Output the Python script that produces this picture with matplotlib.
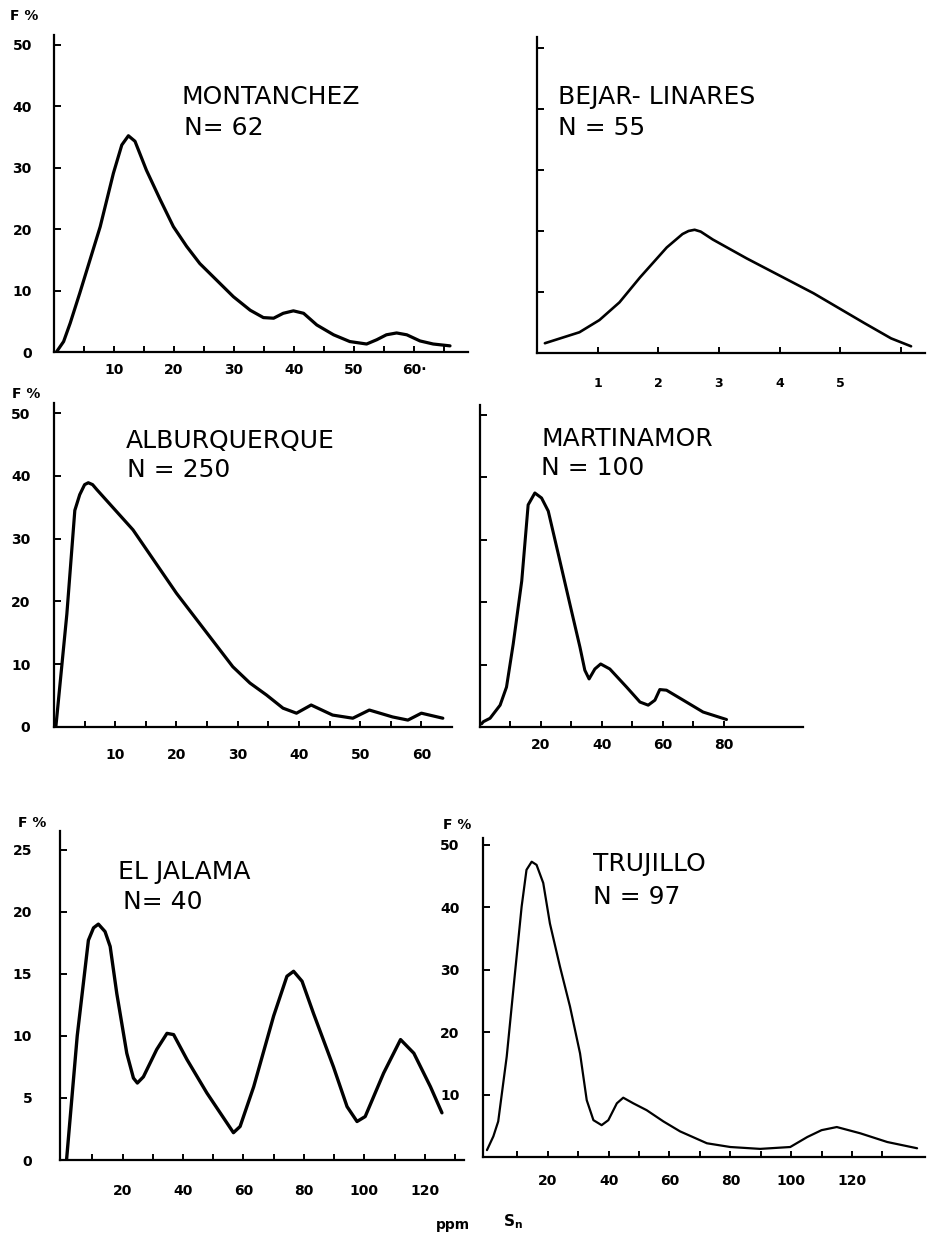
import matplotlib
matplotlib.use("Agg")
import matplotlib.pyplot as plt

# Sn frequency curves (F %) against ppm
mont_x = [0.4, 1.6, 2.7, 4.3, 7.7, 9.9, 11.3, 12.4, 13.5, 15.4, 17.7, 19.9, 22.1, 24.3,
          27.1, 29.9, 32.7, 34.9, 36.6, 38.2, 39.9, 41.6, 43.8, 46.6, 49.3, 52.1, 53.8,
          55.4, 57.1, 58.8, 61, 63.2, 66]
mont_y = [0, 1.7, 4.7, 9.6, 20.4, 29.1, 33.7, 35.2, 34.3, 29.6, 24.8, 20.4, 17.2, 14.4,
          11.7, 9, 6.8, 5.6, 5.5, 6.3, 6.7, 6.3, 4.4, 2.8, 1.7, 1.3, 2,
          2.8, 3.1, 2.8, 1.8, 1.3, 1]

bejar_x = [0.13, 0.7, 1.03, 1.36, 1.7, 2.14, 2.4, 2.5, 2.6, 2.7, 2.9, 3.46, 4.56, 5.4, 5.84, 6.17]
bejar_y = [1.6, 3.4, 5.4, 8.3, 12.4, 17.3, 19.5, 20, 20.2, 19.9, 18.6, 15.5, 9.8, 4.9, 2.4, 1.1]

albu_x = [0.3, 2.1, 3.4, 4.2, 5, 5.6, 6.3, 7, 12.9, 20, 29.2, 32, 34.7, 37.4, 39.6, 42,
          45.5, 48.8, 51.5, 55.3, 57.8, 60, 63.5]
albu_y = [0, 18, 34.5, 37, 38.6, 38.9, 38.6, 37.8, 31.4, 21.3, 9.6, 7, 5.1, 3, 2.2, 3.5,
          1.9, 1.4, 2.7, 1.6, 1.1, 2.2, 1.4]

mart_x = [0.5, 1.1, 3.3, 6.6, 8.7, 10.9, 13.7, 15.8, 18, 20.2, 22.4, 25.7, 29.5, 32.8,
          34.4, 35.8, 37.7, 39.6, 42.6, 48.1, 52.5, 55.2, 57.4, 59, 61.2, 66.7, 73.2, 80.9]
mart_y = [0.5, 0.85, 1.4, 3.5, 6.4, 13.3, 23.4, 35.6, 37.5, 36.7, 34.6, 27.7, 19.7, 12.8,
          9.1, 7.7, 9.3, 10.1, 9.3, 6.4, 4, 3.5, 4.3, 6, 5.9, 4.3, 2.4, 1.2]

jal_x = [1.5, 5, 8.7, 10.4, 12, 14.2, 15.9, 18.1, 21.4, 23.6, 24.9, 26.9, 31.3, 34.7,
         36.9, 41.3, 47.9, 54.5, 56.7, 58.9, 63.4, 70, 74.4, 76.6, 79.4, 83.2, 89.8,
         94.3, 97.6, 100.3, 106.4, 112, 116.4, 121.9, 125.7]
jal_y = [0.1, 10, 17.7, 18.7, 19, 18.4, 17.2, 13.4, 8.6, 6.6, 6.2, 6.7, 8.9, 10.2,
         10.1, 8.1, 5.4, 3, 2.2, 2.7, 5.9, 11.6, 14.8, 15.2, 14.4, 11.8, 7.5,
         4.3, 3.1, 3.5, 7, 9.7, 8.6, 5.9, 3.8]

tru_x = [0, 2.1, 3.7, 6.5, 9.2, 11.4, 13, 14.7, 16.3, 18.5, 20.7, 24, 27.3, 30.6, 32.8,
         35, 37.7, 39.9, 42.7, 44.8, 48.1, 52.5, 58, 63.5, 72.3, 80, 89.8, 99.7, 105.3,
         110, 115, 122.7, 131.6, 141.4]
tru_y = [1.1, 3.3, 5.7, 16.1, 29.4, 40.1, 46, 47.3, 46.8, 43.9, 37.4, 30.5, 24.1, 16.6, 9.1,
         5.9, 5.1, 5.9, 8.6, 9.5, 8.6, 7.5, 5.7, 4.1, 2.2, 1.6, 1.3, 1.6, 3.2,
         4.3, 4.8, 3.8, 2.4, 1.4]

W, H = 927, 1234
fig = plt.figure(figsize=(W / 100, H / 100), dpi=100)
fig.patch.set_facecolor("white")


def pax(left, top, right, bottom):
    return fig.add_axes([left / W, 1 - bottom / H, (right - left) / W, (bottom - top) / H])


def panel(rect, x, y, lw, xlim, ylim, xt, xl, yt, yl, xminor=None, xpad=8, ypad=13):
    ax = pax(*rect)
    ax.plot(x, y, color="black", lw=lw, solid_capstyle="round", solid_joinstyle="round")
    ax.set_xlim(*xlim)
    ax.set_ylim(*ylim)
    for s in ["top", "right"]:
        ax.spines[s].set_visible(False)
    for s in ["left", "bottom"]:
        ax.spines[s].set_linewidth(1.6)
    ax.set_xticks(xt)
    ax.set_xticklabels(xl)
    ax.set_yticks(yt)
    ax.set_yticklabels(yl)
    if xminor is not None:
        ax.set_xticks(xminor, minor=True)
    ax.tick_params(axis="x", which="both", direction="in", length=4, width=1.4, pad=xpad)
    ax.tick_params(axis="y", which="both", direction="in", length=5, width=1.4, pad=ypad)
    for t in ax.get_xticklabels() + ax.get_yticklabels():
        t.set_fontsize(10)
        t.set_fontweight("bold")
    ax.patch.set_alpha(0)
    return ax


dec = [0, 10, 20, 30, 40, 50]
dec_l = ["0", "10", "20", "30", "40", "50"]

# MONTANCHEZ
panel((54, 35, 468, 352), mont_x, mont_y, 2.3, (0, 69), (0, 51.6),
      [10, 20, 30, 40, 50, 60], ["10", "20", "30", "40", "50", "60·"], dec, dec_l,
      xminor=[5, 15, 25, 35, 45, 55, 65], xpad=8, ypad=16)

# BEJAR-LINARES
ax2 = panel((537, 37, 925, 353), bejar_x, bejar_y, 1.9, (0, 6.4), (0, 51.8),
            [1, 2, 3, 4, 5, 6], ["1", "2", "3", "4", "5", ""], [10, 20, 30, 40, 50], [""] * 5,
            xpad=17)
for t in ax2.get_xticklabels():
    t.set_fontsize(9)

# ALBURQUERQUE
panel((54, 403, 452, 727), albu_x, albu_y, 2.3, (0, 65), (0, 51.6),
      [10, 20, 30, 40, 50, 60], ["10", "20", "30", "40", "50", "60"], dec, dec_l,
      xminor=[5, 15, 25, 35, 45, 55], xpad=15, ypad=17)

# MARTINAMOR
panel((480, 405, 803, 727), mart_x, mart_y, 2.2, (0, 106), (0, 51.6),
      [20, 40, 60, 80], ["20", "40", "60", "80"], [10, 20, 30, 40, 50], [""] * 5,
      xminor=[10, 30, 50, 70], xpad=8)

# EL JALAMA
panel((60, 831, 464, 1160), jal_x, jal_y, 2.4, (-0.7, 133), (0, 26.5),
      [20, 40, 60, 80, 100, 120], ["20", "40", "60", "80", "100", "120"],
      [0, 5, 10, 15, 20, 25], ["0", "5", "10", "15", "20", "25"],
      xminor=[10, 30, 50, 70, 90, 110, 130], xpad=17, ypad=20)

# TRUJILLO
panel((483, 838, 925, 1157), tru_x, tru_y, 1.6, (-1.3, 144), (0, 51.1),
      [20, 40, 60, 80, 100, 120], ["20", "40", "60", "80", "100", "120"],
      [10, 20, 30, 40, 50], ["10", "20", "30", "40", "50"],
      xminor=[10, 30, 50, 70, 90, 110, 130], xpad=12, ypad=17)


def ftext(x, y, s, size=18, **kw):
    fig.text(x / W, 1 - y / H, s, fontsize=size, va="center", ha="left", **kw)


ftext(182, 97, "MONTANCHEZ")
ftext(184, 128, "N= 62")
ftext(558, 97, "BEJAR- LINARES")
ftext(558, 128, "N = 55")
ftext(126, 441, "ALBURQUERQUE")
ftext(127, 470, "N = 250")
ftext(541, 439, "MARTINAMOR")
ftext(541, 468, "N = 100")
ftext(118, 872, "EL JALAMA")
ftext(123, 902, "N= 40")
ftext(593, 864, "TRUJILLO")
ftext(593, 897, "N = 97")

for (x, y) in [(10, 16), (12, 394), (18, 823), (443, 825)]:
    ftext(x, y, "F %", size=10, fontweight="bold")

ftext(436, 1225, "ppm", size=10, fontweight="bold")
ftext(503, 1222, r"S$_\mathregular{n}$", size=11, fontweight="bold")

fig.savefig("out.png", dpi=100, facecolor="white")
